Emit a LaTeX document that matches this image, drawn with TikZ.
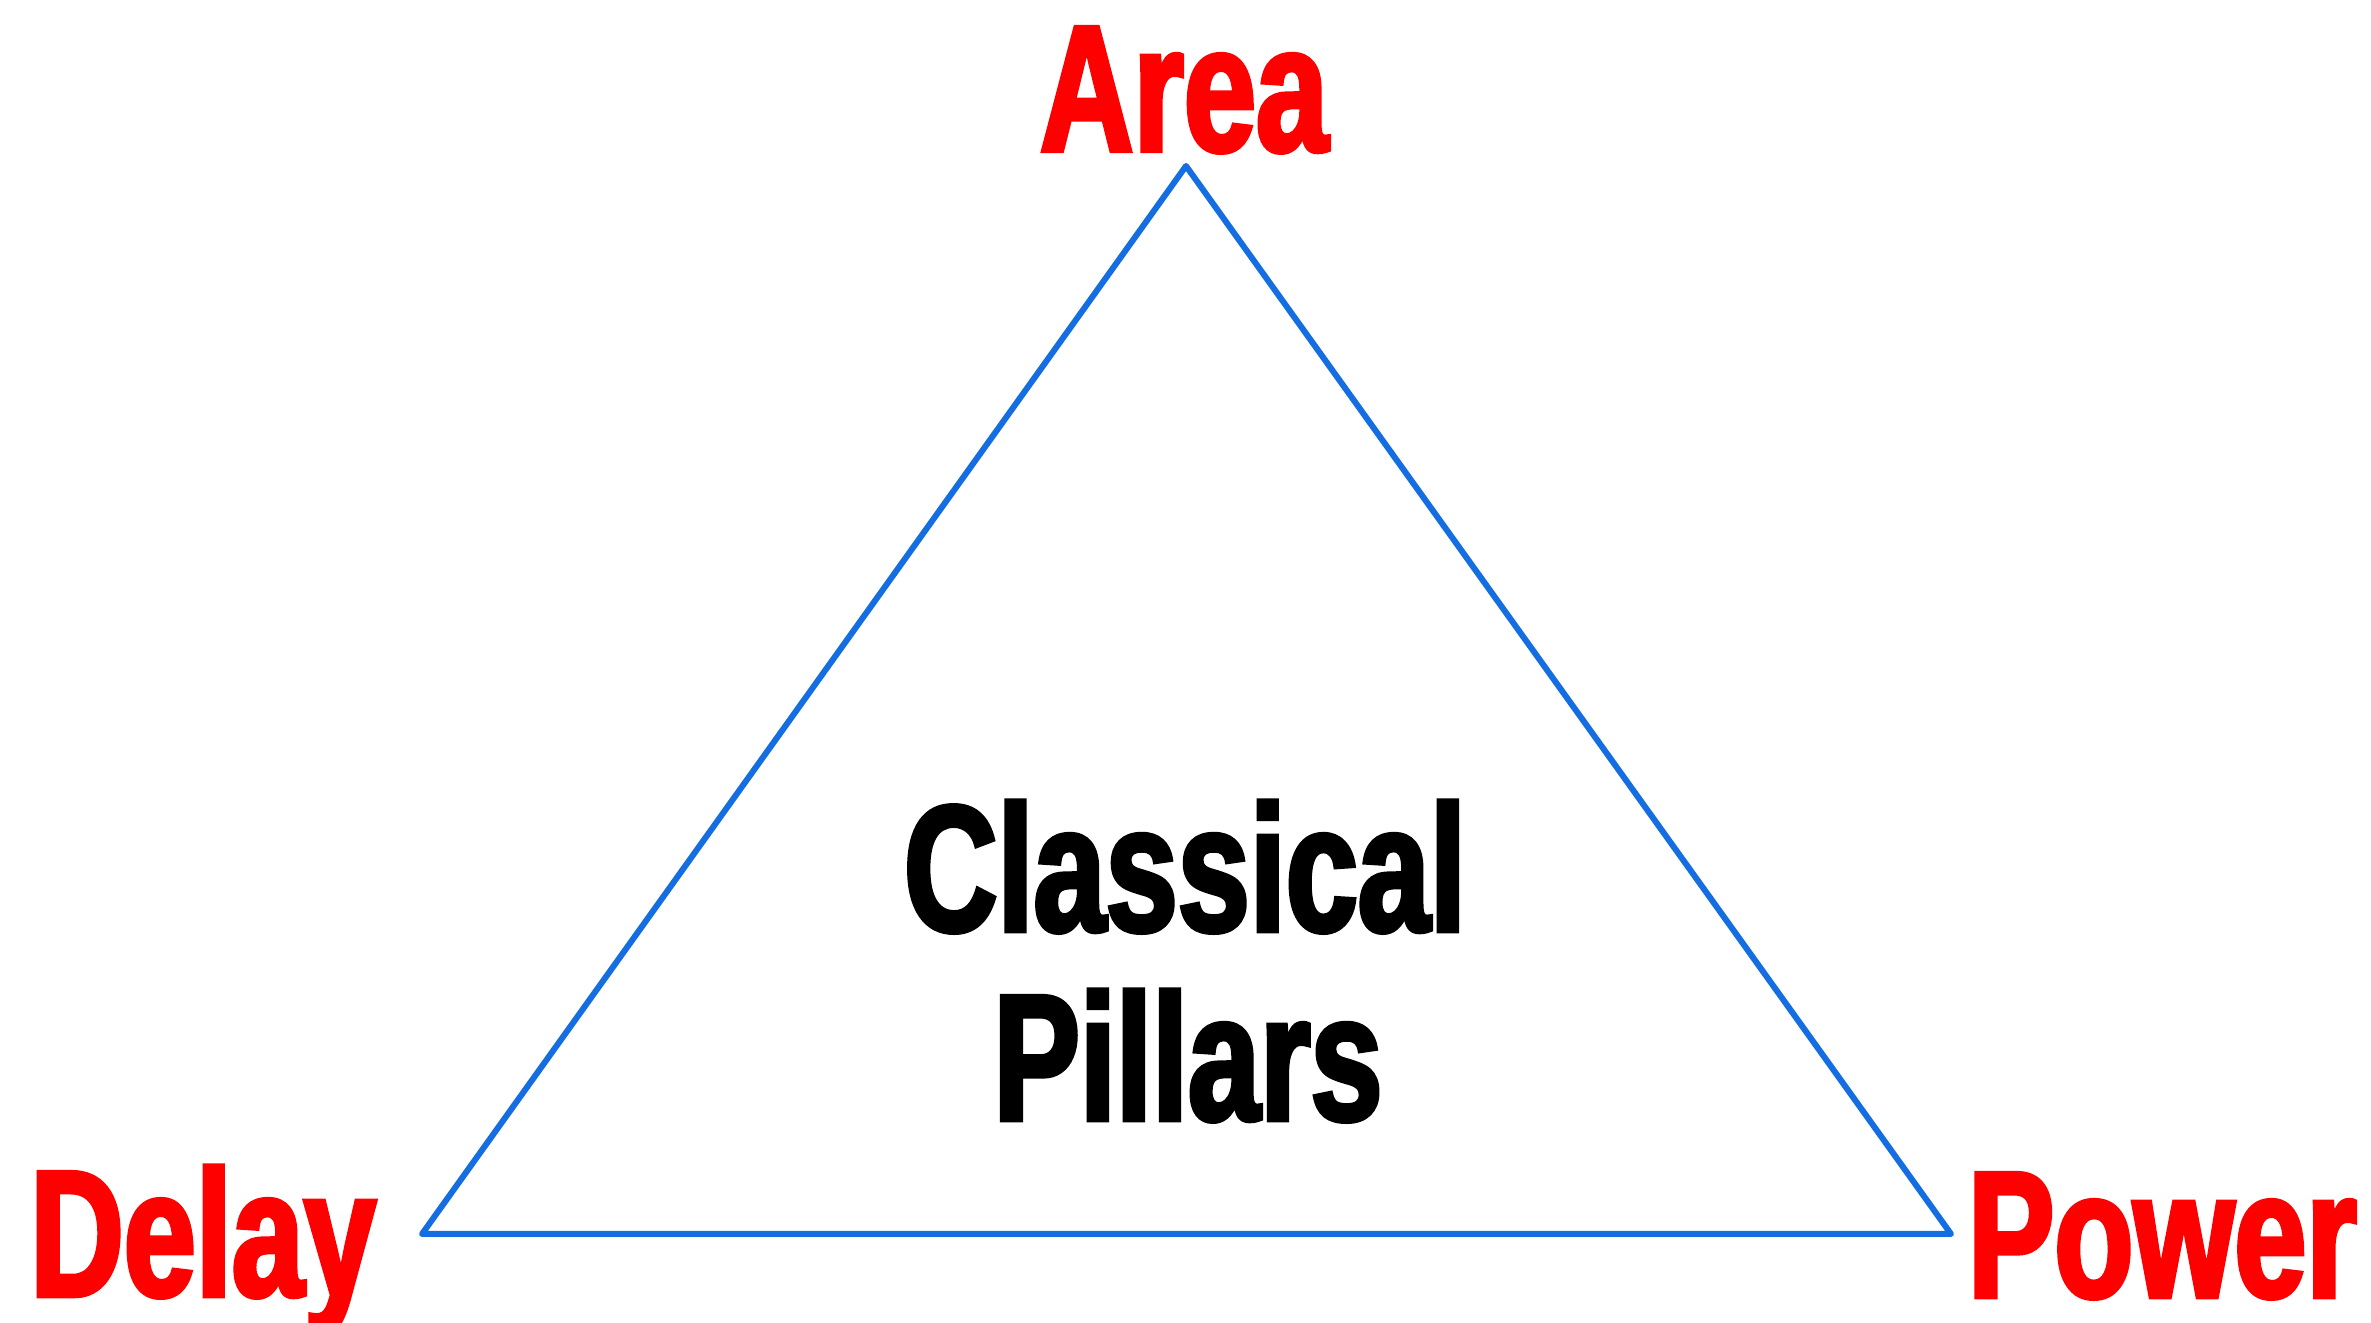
\documentclass[tikz,border=0pt]{standalone}
\usepackage{fontspec}
\usepackage{tikz}
\usetikzlibrary{positioning}
\newfontfamily\pillarfont[FakeStretch=0.72, FakeBold=2.5]{Liberation Sans}
\definecolor{pillarred}{RGB}{255, 0, 0}
\definecolor{edgeblue}{RGB}{20, 110, 225}

\begin{document}
\begin{tikzpicture}[x=1pt, y=1pt,
    metric/.style={inner sep=0, text=pillarred, font=\pillarfont\bfseries\fontsize{180}{190}\selectfont},
    title/.style={inner sep=0, text=black, font=\pillarfont\bfseries\fontsize{180}{190}\selectfont}]
    \useasboundingbox (0,0) rectangle (2371,1322);
    % corners of the triangle
    \coordinate (top) at (1186,1156);
    \coordinate (left) at (422,88);
    \coordinate (right) at (1951,88);
    \draw[edgeblue, line width=6pt, line join=round] (top) -- (left) -- (right) -- cycle;
    % the three metrics
    \node[metric, anchor=base] (area) at (1184,1171) {Area};
    \node[metric, anchor=base west] (delay) at (30,26) {Delay};
    \node[metric, anchor=base east] (power) at (2357,25) {Power};
    % centre text
    \node[title, anchor=base] (classical) at (1185,391) {Classical};
    \node[title, anchor=base] (pillars) at (1188,202) {Pillars};
\end{tikzpicture}
\end{document}
